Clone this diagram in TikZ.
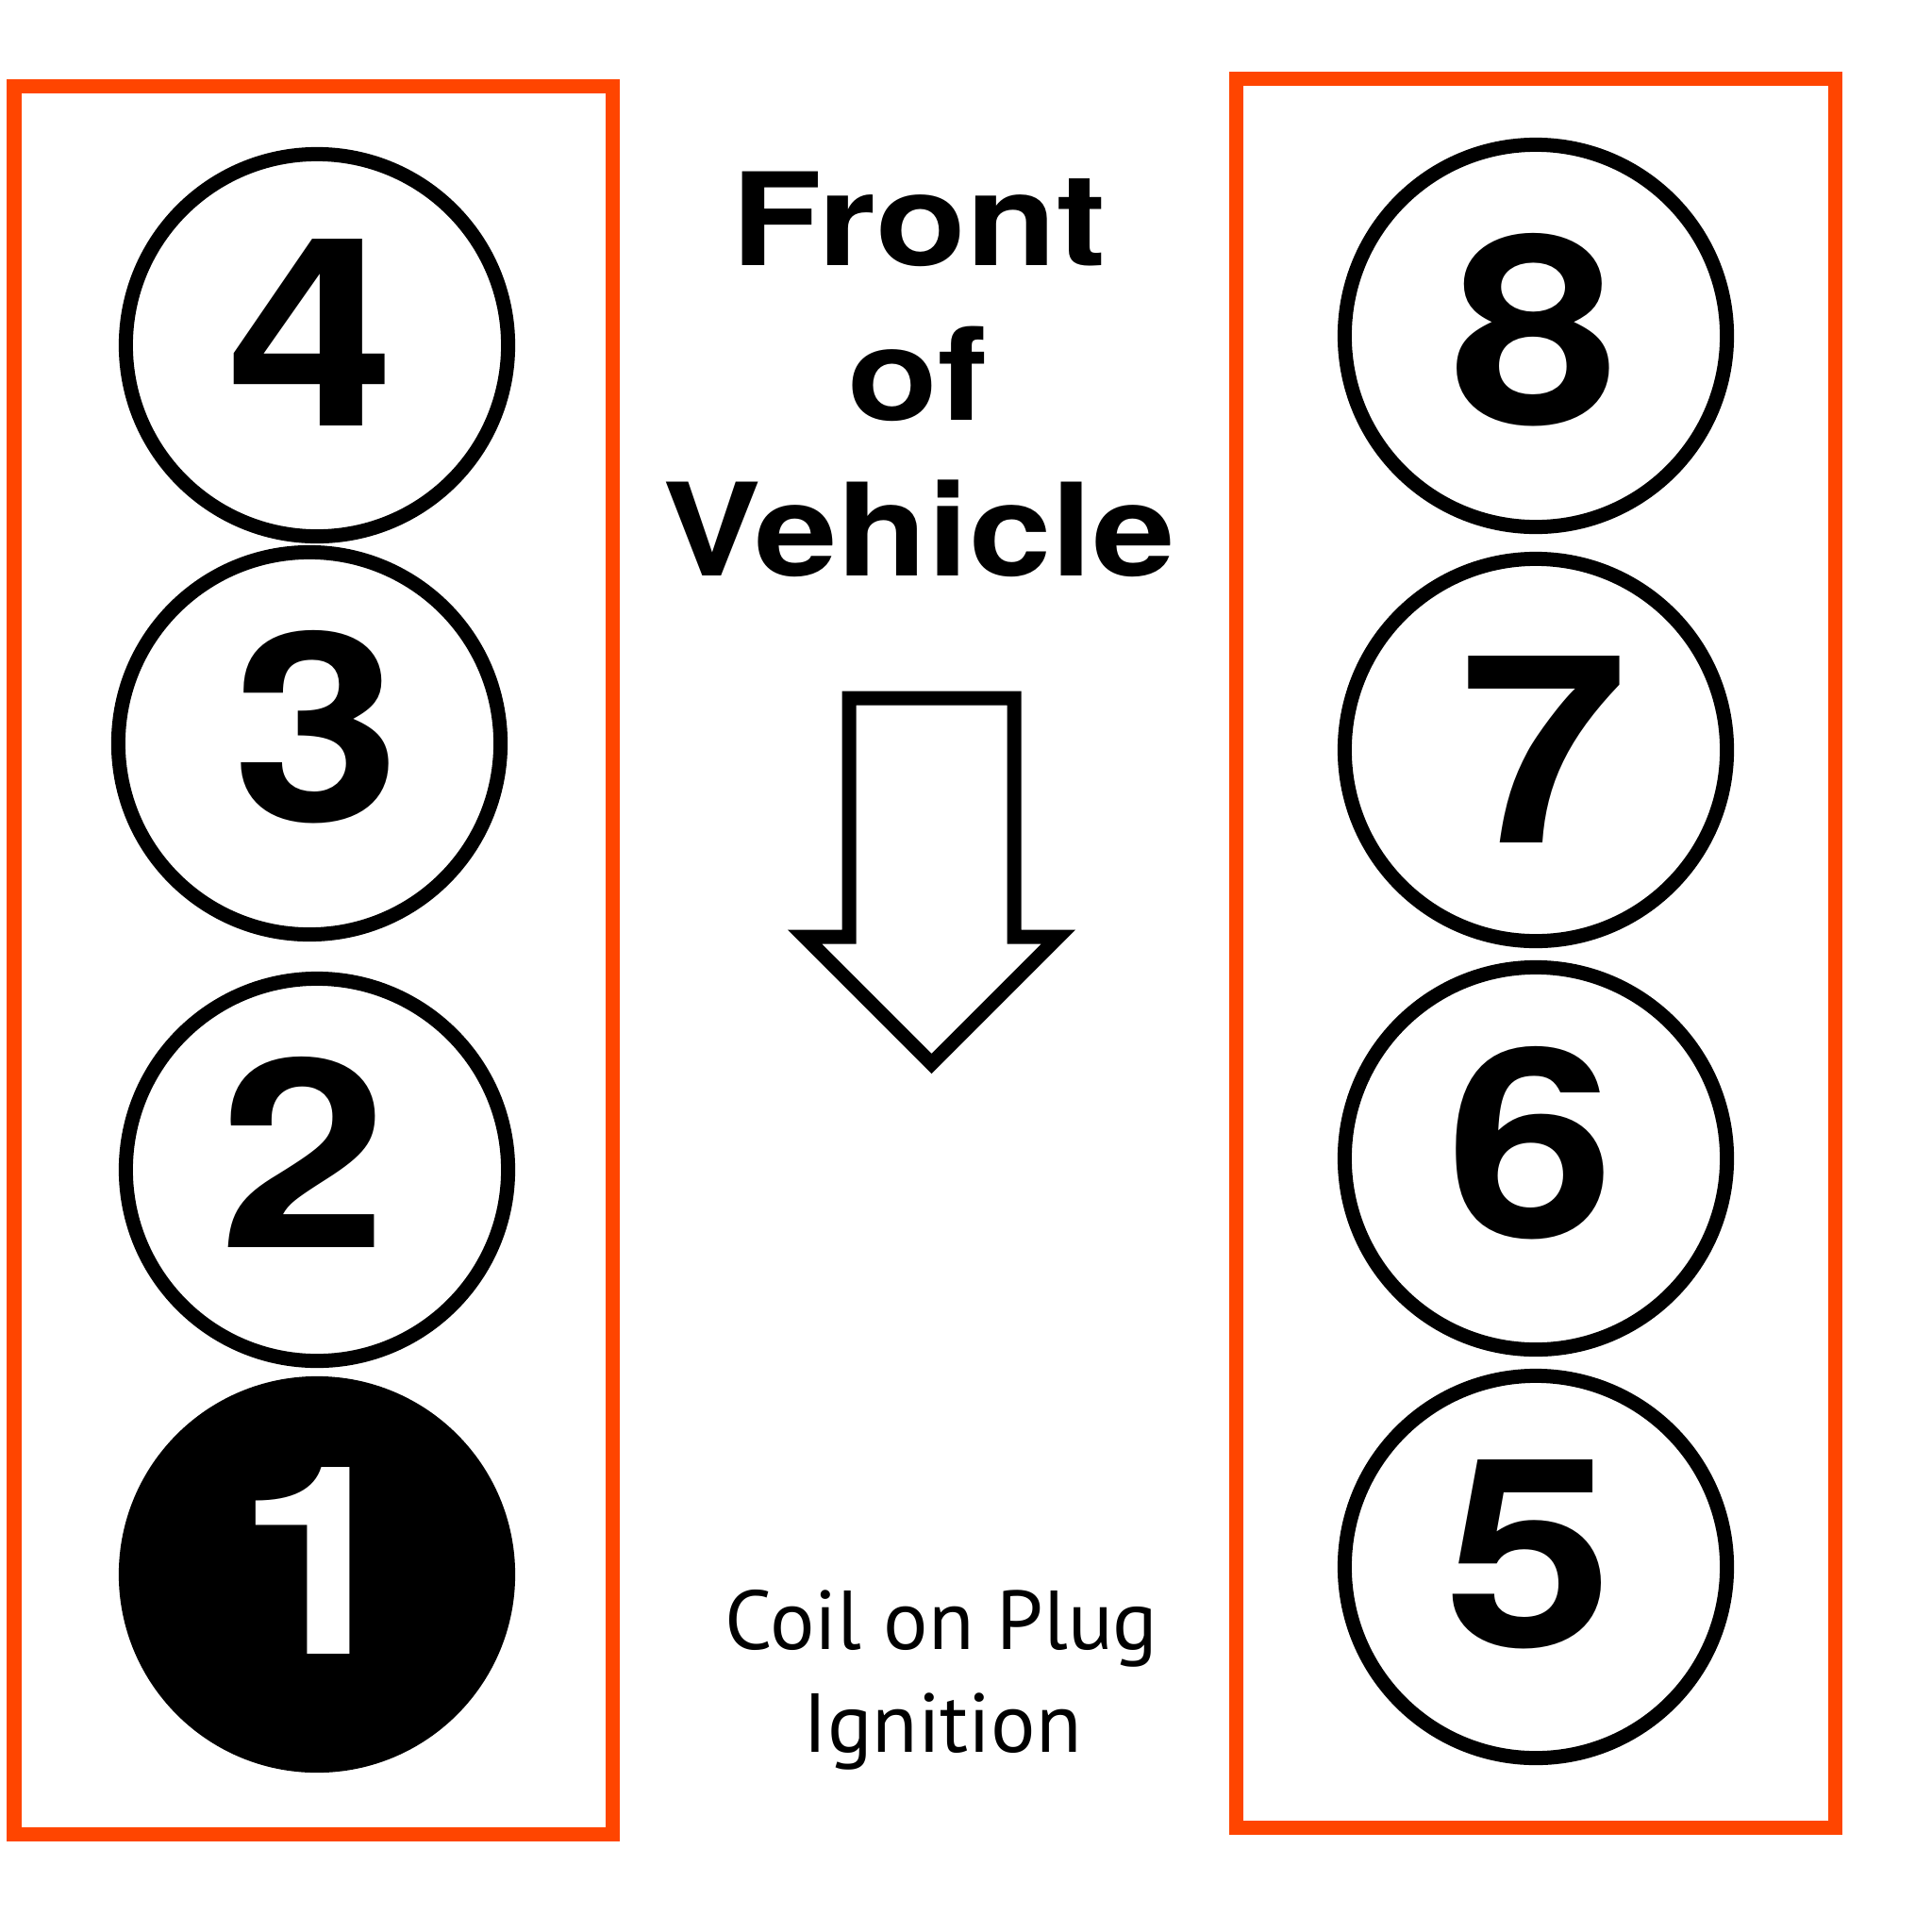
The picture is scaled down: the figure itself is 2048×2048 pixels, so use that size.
\documentclass[tikz,border=0pt]{standalone}
\usepackage{fontspec}
\usepackage{tikz}
\usetikzlibrary{positioning}
\setmainfont{TeX Gyre Heros}
\newfontfamily\heavyfont[FakeStretch=1.15]{TeX Gyre Heros}
\newfontfamily\notefont{PT Sans}
\definecolor{bankred}{HTML}{FF4500}

\begin{document}
\begin{tikzpicture}[
  x=0.01cm, y=-0.01cm,
  bankbox/.style={draw=bankred,line width=0.15cm},
  cylnode/.style={draw,circle,line width=0.15cm,minimum size=4.05cm,inner sep=0pt},
  numnode/.style={anchor=base,inner sep=0pt,font=\heavyfont\bfseries\fontsize{79.4pt}{80pt}\selectfont},
  titlenode/.style={anchor=base,inner sep=0pt,font=\heavyfont\bfseries\fontsize{38.8pt}{40pt}\selectfont},
  notenode/.style={anchor=base,inner sep=0pt,font=\notefont\fontsize{25.2pt}{31pt}\selectfont},
  arrowline/.style={draw,line width=0.15cm,fill=white}
]
\useasboundingbox (0,0) rectangle (2048,2048);

\draw[bankbox] (15,91) rectangle (649,1944);
\draw[bankbox] (1310,83) rectangle (1945,1937);

\foreach \id/\cx/\cy/\nx/\ny in {4/336/366/330/451, 3/328/788/336/870, 2/336/1240/322/1322,
  8/1628/356/1627/449, 7/1628/795/1637/893, 6/1628/1228/1623/1311, 5/1628/1661/1621/1745}
{
  \node[cylnode] (c\id) at (\cx,\cy) {};
  \node[numnode] (n\id) at (\nx,\ny) {\id};
}
\node[cylnode,fill=black] (c1) at (336,1669) {};
\node[numnode,text=white] (n1) at (339,1753) {1};

\node[titlenode] (front) at (974,281) {Front};
\node[titlenode] (of) at (973,445) {of};
\node[titlenode] (vehicle) at (974,610) {Vehicle};

\draw[arrowline] (900,740) -- (1075,740) -- (1075,993) -- (1122,993) -- (987.5,1127.5)
  -- (853,993) -- (900,993) -- cycle;

\node[notenode] (coil) at (998,1748) {Coil on Plug};
\node[notenode] (ignition) at (999,1857) {Ignition};
\end{tikzpicture}
\end{document}
